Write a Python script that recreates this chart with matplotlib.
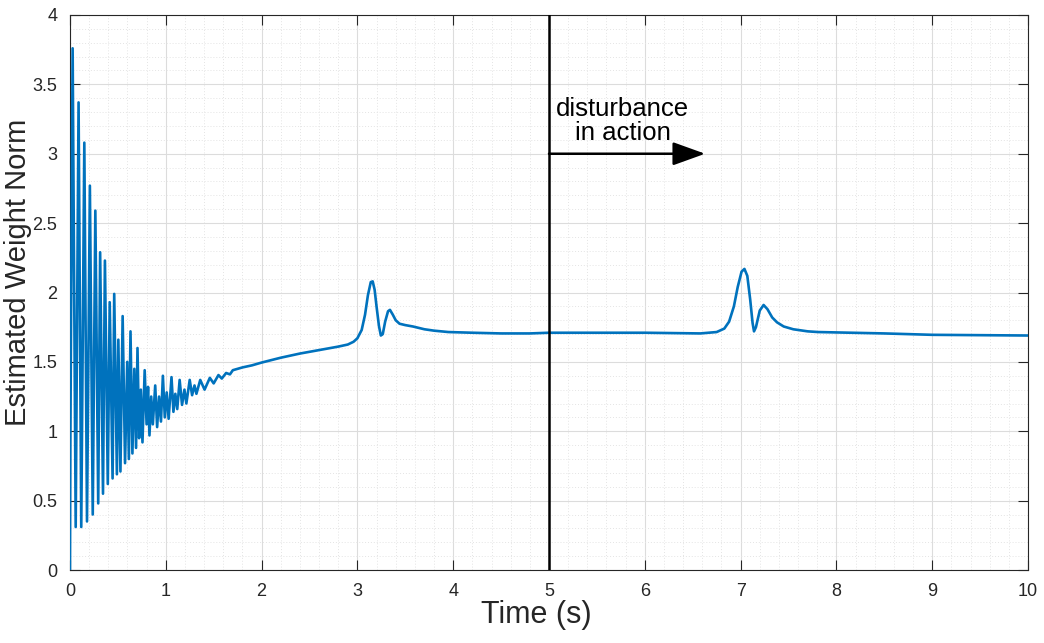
import matplotlib.pyplot as plt
from matplotlib.ticker import MultipleLocator

# estimated weight norm, vertices of the trace (time in s, norm)
t = [0.000, 0.004, 0.028, 0.060, 0.090, 0.118, 0.150, 0.178, 0.208, 0.238,
     0.265, 0.295, 0.315, 0.345, 0.365, 0.395, 0.415, 0.445, 0.462, 0.490,
     0.505, 0.527, 0.550, 0.575, 0.598, 0.615, 0.632, 0.652, 0.672, 0.690,
     0.705, 0.722, 0.740, 0.757, 0.780, 0.800, 0.815, 0.830, 0.848, 0.865,
     0.890, 0.910, 0.930, 0.950, 0.970, 0.990, 1.010, 1.030, 1.060, 1.080,
     1.100, 1.120, 1.145, 1.170, 1.195, 1.215, 1.250, 1.275, 1.300, 1.320,
     1.360, 1.405, 1.460, 1.500, 1.550, 1.585, 1.630, 1.670, 1.700, 1.800,
     1.900, 2.000, 2.200, 2.400, 2.600, 2.800, 2.900, 2.960, 3.000, 3.045,
     3.080, 3.110, 3.140, 3.160, 3.180, 3.200, 3.225, 3.245, 3.265, 3.290,
     3.320, 3.340, 3.370, 3.400, 3.440, 3.500, 3.580, 3.700, 3.800, 3.950,
     4.200, 4.500, 4.800, 5.000, 5.500, 6.000, 6.580, 6.750, 6.830, 6.880,
     6.930, 6.970, 7.010, 7.040, 7.070, 7.100, 7.125, 7.140, 7.160, 7.200,
     7.240, 7.280, 7.330, 7.380, 7.450, 7.550, 7.700, 7.810, 8.500, 9.000,
     10.000]
w = [0.00, 0.90, 3.76, 0.31, 3.37, 0.31, 3.08, 0.35, 2.77, 0.40,
     2.59, 0.48, 2.29, 0.55, 2.23, 0.62, 1.93, 0.66, 1.99, 0.69,
     1.66, 0.71, 1.83, 0.77, 1.50, 0.80, 1.72, 0.84, 1.45, 0.88,
     1.60, 0.95, 1.30, 0.92, 1.44, 1.05, 1.32, 0.97, 1.25, 1.05,
     1.33, 1.03, 1.25, 1.07, 1.40, 1.10, 1.28, 1.09, 1.39, 1.14,
     1.27, 1.16, 1.37, 1.19, 1.30, 1.20, 1.37, 1.26, 1.33, 1.27,
     1.37, 1.30, 1.385, 1.345, 1.405, 1.38, 1.42, 1.41, 1.44, 1.46,
     1.475, 1.495, 1.53, 1.56, 1.585, 1.61, 1.625, 1.645, 1.67, 1.73,
     1.84, 1.98, 2.075, 2.08, 2.02, 1.90, 1.76, 1.69, 1.70, 1.79,
     1.865, 1.875, 1.84, 1.80, 1.775, 1.765, 1.755, 1.735, 1.725, 1.715,
     1.71, 1.705, 1.705, 1.71, 1.71, 1.71, 1.705, 1.715, 1.74, 1.79,
     1.90, 2.04, 2.15, 2.17, 2.12, 1.95, 1.78, 1.72, 1.75, 1.87,
     1.91, 1.88, 1.82, 1.785, 1.755, 1.735, 1.72, 1.715, 1.705, 1.695,
     1.69]

t_dist = 5.0
arrow_end = 6.63
arrow_y = 3.0

plt.rcParams['font.family'] = ['Liberation Sans', 'DejaVu Sans']

fig = plt.figure(figsize=(10.44, 6.43), dpi=100)
ax = fig.add_axes([0.067, 0.1135, 0.9177, 0.8632])

ax.plot(t, w, color='#0072BD', lw=1.9, zorder=3)
ax.plot([t_dist, t_dist], [0, 4], color='black', lw=1.8, zorder=4)
ax.annotate('', xy=(arrow_end, arrow_y), xytext=(t_dist, arrow_y),
            arrowprops=dict(arrowstyle='-|>,head_length=1.0,head_width=0.36',
                            mutation_scale=20, color='black', lw=1.8,
                            shrinkA=0, shrinkB=0),
            zorder=4)
ax.text(5.77, 3.235, 'disturbance\nin action', ha='center', va='center',
        fontsize=18.5, linespacing=1.0, color='black')

ax.set_xlim(0, 10)
ax.set_ylim(0, 4)
ax.xaxis.set_minor_locator(MultipleLocator(0.2))
ax.yaxis.set_minor_locator(MultipleLocator(0.1))
ax.set_xticks(range(11))
ax.set_xticklabels([str(i) for i in range(11)])
ax.set_yticks([0, 0.5, 1, 1.5, 2, 2.5, 3, 3.5, 4])
ax.set_yticklabels(['0', '0.5', '1', '1.5', '2', '2.5', '3', '3.5', '4'])

ax.grid(which='major', color='#dcdcdc', lw=0.8)
ax.grid(which='minor', color='#e4e4e4', lw=0.7, ls=(0, (1, 2)))
ax.set_axisbelow(True)

ax.tick_params(which='major', direction='in', length=7, width=0.8,
               top=True, right=True, labelsize=13, colors='#262626')
ax.tick_params(axis='x', which='major', pad=9)
ax.tick_params(axis='y', which='major', pad=9)
ax.tick_params(which='minor', length=0, top=True, right=True)
for s in ax.spines.values():
    s.set_color('#262626')
    s.set_linewidth(0.8)

ax.set_xlabel('Time (s)', fontsize=22, color='#262626')
ax.set_ylabel('Estimated Weight Norm', fontsize=21, color='#262626')
ax.xaxis.set_label_coords(0.487, -0.081)
ax.yaxis.set_label_coords(-0.054, 0.536)
ax.xaxis.label.set_va('center')
ax.yaxis.label.set_va('center')

fig.savefig('out.png', dpi=100)
